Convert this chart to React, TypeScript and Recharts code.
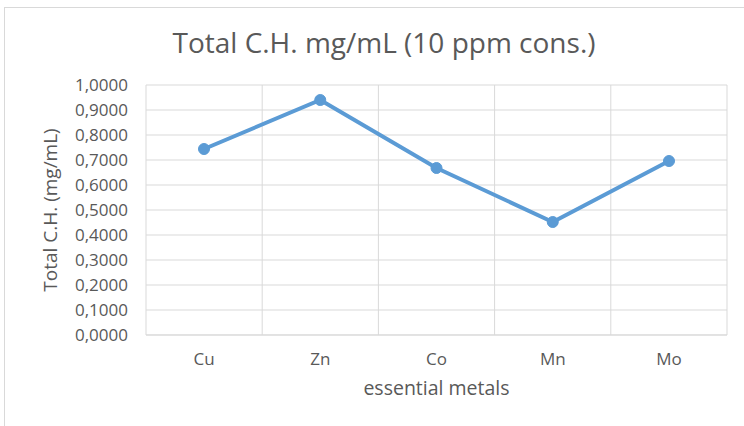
import React from "react"
import { LineChart, Line, XAxis, YAxis, CartesianGrid, Label } from "recharts"

const metals = ["Cu", "Zn", "Co", "Mn", "Mo"]
const totalCH = [0.744, 0.94, 0.668, 0.452, 0.696]
const yTicks = [0, 0.1, 0.2, 0.3, 0.4, 0.5, 0.6, 0.7, 0.8, 0.9, 1.0]

const data = metals.map((m, i) => ({ metal: m, value: totalCH[i] }))

const FONT = "'Open Sans', sans-serif"
const TEXT = "#595959"
const GRID = "#D9D9D9"
const BLUE = "#5B9BD5"

const fmt = (v: number) => v.toFixed(4).replace(".", ",")

// vertical lines sit between categories, like Excel
const boundaries = ({ offset }: any) => {
  const step = offset.width / metals.length
  return metals.map((_, i) => offset.left + i * step).concat(offset.left + offset.width)
}

export default function App() {
  return (
    <div style={{ position: "absolute", left: 0, top: 0, width: 744, height: 426, overflow: "hidden", background: "#fff" }}>
      <div style={{ position: "absolute", left: 4, top: 7, width: 800, height: 500, border: `1px solid ${GRID}` }} />
      <div
        style={{
          position: "absolute",
          left: 0,
          top: 23,
          width: 768,
          textAlign: "center",
          fontFamily: FONT,
          fontSize: 28,
          lineHeight: "normal",
          color: TEXT,
        }}
      >
        Total C.H. mg/mL (10 ppm cons.)
      </div>
      <div style={{ position: "absolute", left: 0, top: 0 }}>
        <LineChart width={744} height={426} data={data} margin={{ top: 85, right: 17, bottom: 0, left: 0 }}>
          <CartesianGrid stroke={GRID} verticalCoordinatesGenerator={boundaries} />
          <XAxis
            dataKey="metal"
            height={91}
            padding={{ left: 58, right: 58 }}
            axisLine={{ stroke: GRID }}
            tickLine={false}
            tickSize={0}
            tickMargin={18}
            tick={{ fill: TEXT, fontSize: 17, fontFamily: FONT }}
          >
            <Label
              content={({ viewBox }: any) => (
                <text
                  x={viewBox.x + viewBox.width / 2}
                  y={395}
                  textAnchor="middle"
                  fill={TEXT}
                  fontSize={19.5}
                  fontFamily={FONT}
                >
                  essential metals
                </text>
              )}
            />
          </XAxis>
          <YAxis
            width={146}
            domain={[0, 1]}
            ticks={yTicks}
            interval={0}
            axisLine={false}
            tickLine={false}
            tickSize={0}
            tickMargin={18}
            tickFormatter={fmt}
            tick={{ fill: TEXT, fontSize: 17, fontFamily: FONT }}
          >
            <Label
              content={({ viewBox }: any) => {
                const cy = viewBox.y + viewBox.height / 2
                return (
                  <text
                    x={57}
                    y={cy}
                    transform={`rotate(-90 57 ${cy})`}
                    textAnchor="middle"
                    fill={TEXT}
                    fontSize={19}
                    fontFamily={FONT}
                  >
                    Total C.H. (mg/mL)
                  </text>
                )
              }}
            />
          </YAxis>
          <Line
            type="linear"
            dataKey="value"
            stroke={BLUE}
            strokeWidth={4}
            dot={{ r: 5.5, fill: BLUE, stroke: BLUE, strokeWidth: 1 }}
            activeDot={false}
            isAnimationActive={false}
          />
        </LineChart>
      </div>
    </div>
  )
}
